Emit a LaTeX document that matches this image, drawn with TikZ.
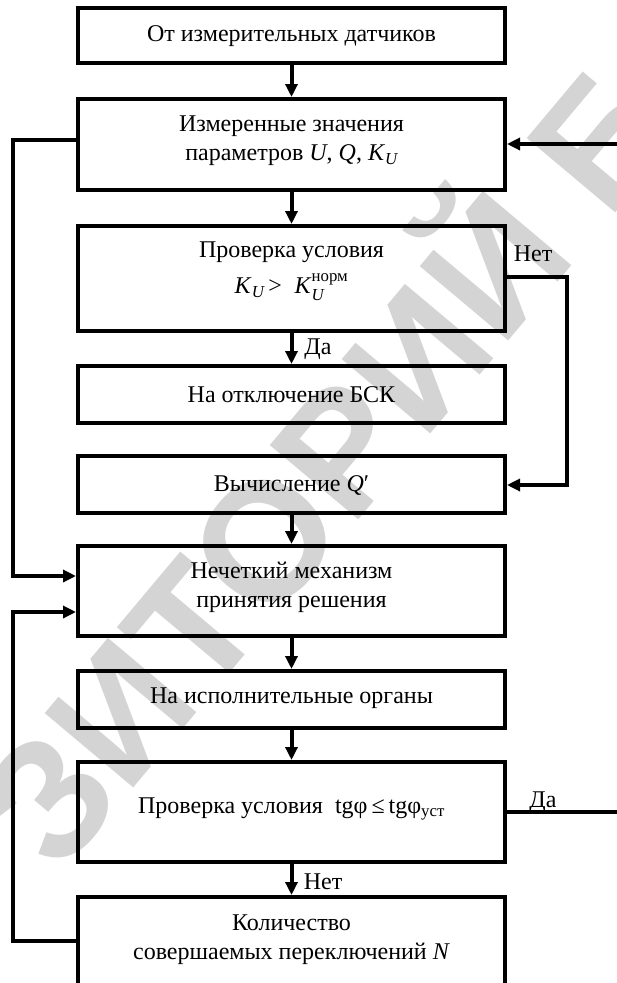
\documentclass[tikz,border=0pt]{standalone}
\usepackage{fontspec}
\usepackage{amsmath}
\setmainfont{Liberation Serif}
\newfontfamily\wmfont{Liberation Sans}
\usetikzlibrary{arrows.meta}
\begin{document}
\begin{tikzpicture}[x=1pt,y=-1pt,
  box/.style={draw, line width=4pt, minimum width=427pt, inner sep=0pt},
  txt/.style={font=\fontsize{24}{29}\selectfont, align=center, inner sep=0pt},
  conn/.style={line width=4pt},
  arr/.style={line width=4pt, -{Triangle[length=13pt,width=12pt]}},
  loopline/.style={line width=3.2pt},
  lbl/.style={font=\fontsize{24}{29}\selectfont, inner sep=0pt}]
\useasboundingbox (0,0) rectangle (617,983);
% watermark
\node[rotate=50, text=black!17, font=\wmfont\bfseries\fontsize{168}{168}\selectfont,
      anchor=base west, inner sep=0pt] (wm) at (59,877) {ЗИТОРИЙ Б};
% boxes
\node[box, minimum height=55pt]  (b1) at (291.5,35.5) {};
\node[box, minimum height=91pt]  (b2) at (291.5,144.5) {};
\node[box, minimum height=105pt] (b3) at (291.5,278.5) {};
\node[box, minimum height=57pt]  (b4) at (291.5,394.5) {};
\node[box, minimum height=57pt]  (b5) at (291.5,484.5) {};
\node[box, minimum height=90pt]  (b6) at (291.5,591) {};
\node[box, minimum height=57pt]  (b7) at (291.5,699.5) {};
\node[box, minimum height=100pt] (b8) at (291.5,812) {};
\node[box, minimum height=90pt]  (b9) at (291.5,942) {};
% texts
\node[txt] (t1) at (291.5,36) {От измерительных датчиков};
\node[txt] (t2) at (291.5,141) {Измеренные значения\\параметров \textit{U}, \textit{Q}, \textit{K}$_{\text{\itshape U}}$};
\node[txt] (t3a) at (291.5,252) {Проверка условия};
\node[txt] (t3b) at (291.5,287) {\textit{K}$_{\text{\itshape U}}$\,>\; \textit{K}$^{\text{норм}}_{\text{\itshape U}}$};
\node[txt] (t4) at (291.5,395) {На отключение БСК};
\node[txt] (t5) at (291.5,485) {Вычисление \textit{Q}′};
\node[txt] (t6) at (291.5,587) {Нечеткий механизм\\принятия решения};
\node[txt] (t7) at (291.5,698) {На исполнительные органы};
\node[txt] (t8) at (291.5,809) {Проверка условия\ \ tgφ\,≤\,tgφ$_{\text{уст}}$};
\node[txt] (t9) at (291.5,940) {Количество\\совершаемых переключений \textit{N}};
% labels
\node[lbl] (lda1) at (318,349) {Да};
\node[lbl] (lnet1) at (533,254) {Нет};
\node[lbl] (lda2) at (543,802) {Да};
\node[lbl] (lnet2) at (323,882) {Нет};
% coordinates
\coordinate (L1) at (13,140);
\coordinate (L2) at (13,576);
\coordinate (L3) at (13,612);
\coordinate (L4) at (13,941);
\coordinate (R1) at (622,144);
\coordinate (R2) at (622,812);
\coordinate (N1) at (567,277);
\coordinate (N2) at (567,485);
% straight arrows
\draw[arr] (b1) -- (b2);
\draw[arr] (b2) -- (b3);
\draw[arr] (b3) -- (b4);
\draw[arr] (b5) -- (b6);
\draw[arr] (b6) -- (b7);
\draw[arr] (b7) -- (b8);
\draw[arr] (b8) -- (b9);
% loops
\draw[arr] (b2.west |- L1) -- (L1) -- (L2) -- (b6.west |- L2);
\draw[arr] (b9.west |- L4) -- (L4) -- (L3) -- (b6.west |- L3);
\draw[arr] (R1) -- (b2.east |- R1);
\draw[conn] (b8.east |- R2) -- (R2);
\draw[loopline, -{Triangle[length=13pt,width=12pt]}] (b3.east |- N1) -- (N1) -- (N2) -- (b5.east |- N2);
\end{tikzpicture}
\end{document}
